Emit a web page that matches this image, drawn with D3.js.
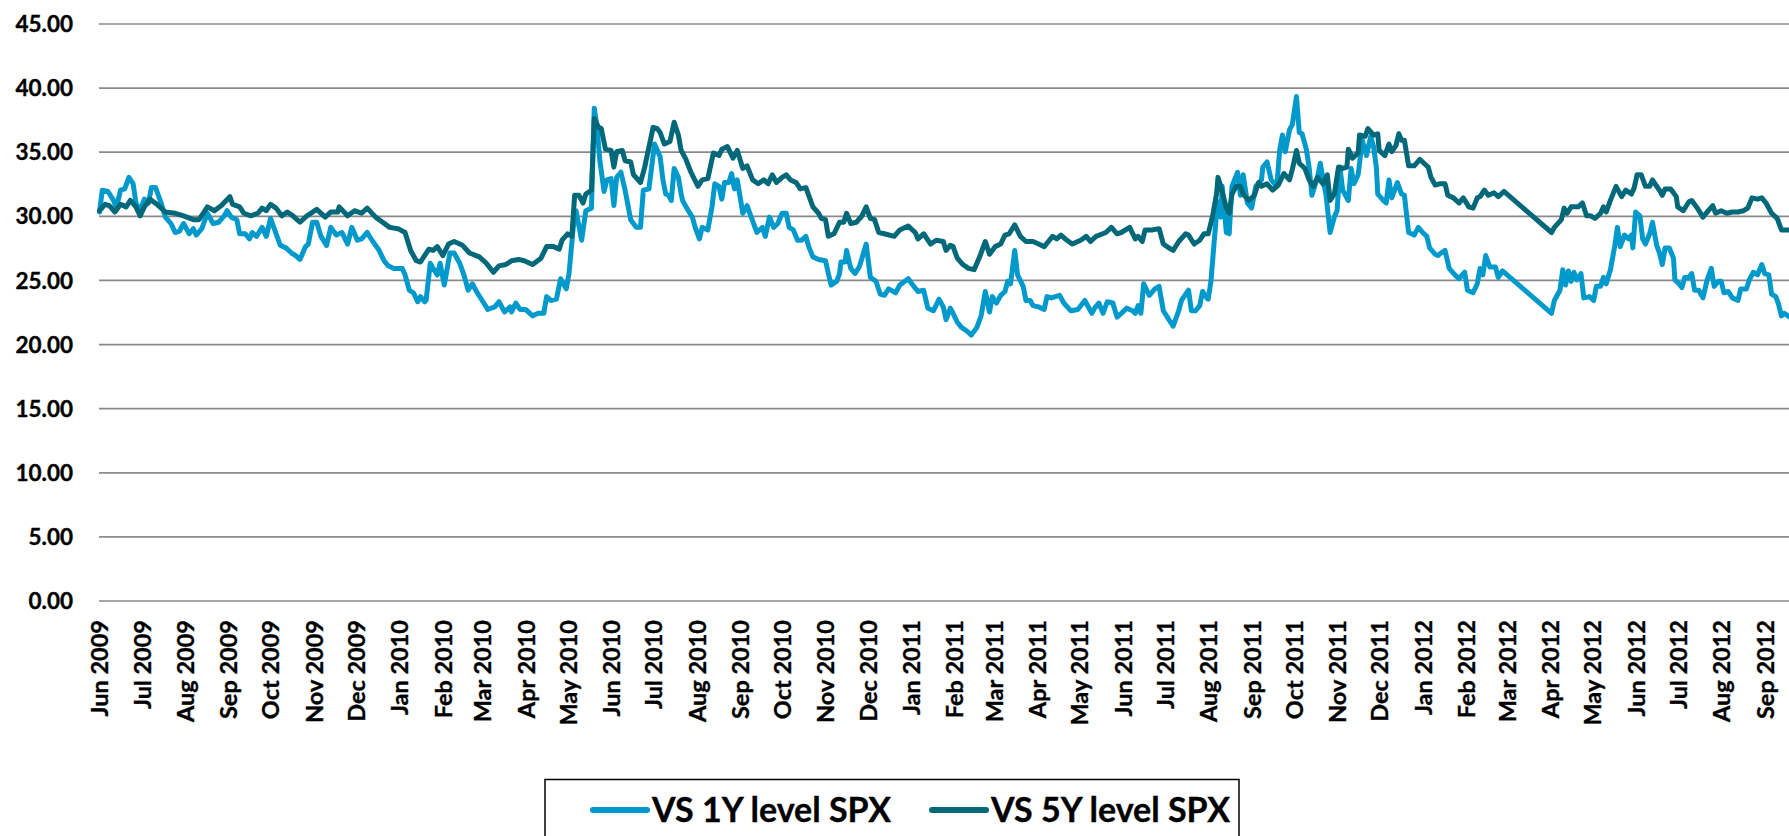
<!DOCTYPE html>
<html>
<head>
<meta charset="utf-8">
<script src="https://cdn.jsdelivr.net/npm/d3@7/dist/d3.min.js"></script>
<style>
  html, body { margin: 0; padding: 0; background: #fff; }
  #main svg { display: block; font-family: Lato, 'Open Sans', sans-serif; font-weight: 700; }
  #main svg text { stroke: #000; stroke-width: 0.35px; paint-order: stroke; }
</style>
</head>
<body>
<div id="main"></div>
<script>
// y tick values (gridlines) and month tick labels along the time axis
const yTicks = [0, 5, 10, 15, 20, 25, 30, 35, 40, 45];
const monthLabels = [
    'Jun 2009', 'Jul 2009', 'Aug 2009', 'Sep 2009', 'Oct 2009', 'Nov 2009', 'Dec 2009',
    'Jan 2010', 'Feb 2010', 'Mar 2010', 'Apr 2010', 'May 2010', 'Jun 2010', 'Jul 2010', 'Aug 2010', 'Sep 2010', 'Oct 2010', 'Nov 2010', 'Dec 2010',
    'Jan 2011', 'Feb 2011', 'Mar 2011', 'Apr 2011', 'May 2011', 'Jun 2011', 'Jul 2011', 'Aug 2011', 'Sep 2011', 'Oct 2011', 'Nov 2011', 'Dec 2011',
    'Jan 2012', 'Feb 2012', 'Mar 2012', 'Apr 2012', 'May 2012', 'Jun 2012', 'Jul 2012', 'Aug 2012', 'Sep 2012'
];
const seriesNames = ['VS 1Y level SPX', 'VS 5Y level SPX'];

// VS 1Y level SPX
const oneYearDates = [
    '2009-06-01','2009-06-03','2009-06-07','2009-06-11','2009-06-13','2009-06-16','2009-06-19','2009-06-22','2009-06-25','2009-06-27',
    '2009-06-30','2009-07-03','2009-07-06','2009-07-08','2009-07-11','2009-07-15','2009-07-18','2009-07-22','2009-07-25','2009-07-28',
    '2009-07-31','2009-08-04','2009-08-07','2009-08-09','2009-08-13','2009-08-17','2009-08-21','2009-08-25','2009-08-29','2009-08-31',
    '2009-09-03','2009-09-07','2009-09-09','2009-09-13','2009-09-16','2009-09-18','2009-09-21','2009-09-25','2009-09-28','2009-10-01',
    '2009-10-04','2009-10-08','2009-10-12','2009-10-16','2009-10-19','2009-10-22','2009-10-26','2009-10-28','2009-10-31','2009-11-03',
    '2009-11-06','2009-11-10','2009-11-13','2009-11-17','2009-11-21','2009-11-25','2009-11-28','2009-12-02','2009-12-05','2009-12-09',
    '2009-12-13','2009-12-17','2009-12-21','2009-12-24','2009-12-28','2010-01-03','2010-01-05','2010-01-08','2010-01-11','2010-01-14',
    '2010-01-16','2010-01-19','2010-01-20','2010-01-23','2010-01-25','2010-01-28','2010-01-30','2010-02-02','2010-02-06','2010-02-09',
    '2010-02-13','2010-02-16','2010-02-19','2010-02-22','2010-02-25','2010-03-01','2010-03-05','2010-03-10','2010-03-13','2010-03-17',
    '2010-03-21','2010-03-22','2010-03-25','2010-03-28','2010-04-01','2010-04-06','2010-04-10','2010-04-14','2010-04-16','2010-04-19',
    '2010-04-23','2010-04-26','2010-04-30','2010-05-02','2010-05-05','2010-05-07','2010-05-11','2010-05-14','2010-05-18','2010-05-20',
    '2010-05-22','2010-05-24','2010-05-27','2010-05-29','2010-06-01','2010-06-03','2010-06-05','2010-06-08','2010-06-11','2010-06-15',
    '2010-06-19','2010-06-22','2010-06-24','2010-06-28','2010-07-02','2010-07-06','2010-07-08','2010-07-10','2010-07-12','2010-07-14',
    '2010-07-16','2010-07-19','2010-07-21','2010-07-22','2010-07-25','2010-07-29','2010-07-31','2010-08-03','2010-08-05','2010-08-09',
    '2010-08-12','2010-08-14','2010-08-17','2010-08-19','2010-08-21','2010-08-24','2010-08-26','2010-08-28','2010-08-30','2010-09-03',
    '2010-09-06','2010-09-09','2010-09-13','2010-09-17','2010-09-19','2010-09-22','2010-09-25','2010-09-28','2010-10-01','2010-10-04',
    '2010-10-06','2010-10-09','2010-10-12','2010-10-15','2010-10-18','2010-10-20','2010-10-23','2010-10-27','2010-11-01','2010-11-03',
    '2010-11-05','2010-11-09','2010-11-11','2010-11-12','2010-11-15','2010-11-16','2010-11-19','2010-11-22','2010-11-25','2010-11-27',
    '2010-11-30','2010-12-03','2010-12-07','2010-12-10','2010-12-13','2010-12-16','2010-12-21','2010-12-24','2010-12-30','2011-01-03',
    '2011-01-06','2011-01-10','2011-01-13','2011-01-17','2011-01-21','2011-01-24','2011-01-26','2011-01-29','2011-01-31','2011-02-03',
    '2011-02-06','2011-02-10','2011-02-13','2011-02-17','2011-02-20','2011-02-23','2011-02-26','2011-02-28','2011-03-03','2011-03-06',
    '2011-03-09','2011-03-11','2011-03-13','2011-03-16','2011-03-18','2011-03-22','2011-03-24','2011-03-27','2011-03-29','2011-04-02',
    '2011-04-06','2011-04-08','2011-04-11','2011-04-14','2011-04-17','2011-04-20','2011-04-25','2011-04-30','2011-05-05','2011-05-10',
    '2011-05-12','2011-05-15','2011-05-18','2011-05-21','2011-05-25','2011-05-28','2011-05-31','2011-06-04','2011-06-08','2011-06-10',
    '2011-06-12','2011-06-14','2011-06-16','2011-06-20','2011-06-24','2011-06-27','2011-06-30','2011-07-04','2011-07-07','2011-07-11',
    '2011-07-13','2011-07-16','2011-07-18','2011-07-20','2011-07-23','2011-07-26','2011-07-28','2011-07-31','2011-08-01','2011-08-03',
    '2011-08-05','2011-08-07','2011-08-08','2011-08-10','2011-08-11','2011-08-14','2011-08-16','2011-08-18','2011-08-22','2011-08-24',
    '2011-08-26','2011-08-29','2011-09-01','2011-09-04','2011-09-08','2011-09-09','2011-09-12','2011-09-15','2011-09-19','2011-09-21',
    '2011-09-23','2011-09-25','2011-09-28','2011-09-30','2011-10-03','2011-10-05','2011-10-07','2011-10-10','2011-10-12','2011-10-14',
    '2011-10-18','2011-10-20','2011-10-22','2011-10-24','2011-10-27','2011-10-30','2011-11-01','2011-11-03','2011-11-05','2011-11-09',
    '2011-11-11','2011-11-13','2011-11-16','2011-11-19','2011-11-22','2011-11-25','2011-11-27','2011-11-29','2011-11-30','2011-12-04',
    '2011-12-06','2011-12-08','2011-12-10','2011-12-14','2011-12-17','2011-12-19','2011-12-22','2011-12-26','2011-12-29','2012-01-01',
    '2012-01-04','2012-01-06','2012-01-10','2012-01-12','2012-01-14','2012-01-17','2012-01-20','2012-01-24','2012-01-27','2012-01-31',
    '2012-02-02','2012-02-06','2012-02-09','2012-02-11','2012-02-13','2012-02-15','2012-02-18','2012-02-22','2012-02-24','2012-02-27',
    '2012-04-02','2012-04-04','2012-04-08','2012-04-10','2012-04-12','2012-04-14','2012-04-16','2012-04-18','2012-04-20','2012-04-23',
    '2012-04-25','2012-04-29','2012-05-02','2012-05-04','2012-05-07','2012-05-09','2012-05-11','2012-05-14','2012-05-17','2012-05-19',
    '2012-05-21','2012-05-24','2012-05-27','2012-05-29','2012-05-30','2012-06-01','2012-06-04','2012-06-06','2012-06-08','2012-06-11',
    '2012-06-13','2012-06-16','2012-06-18','2012-06-20','2012-06-22','2012-06-25','2012-06-28','2012-06-29','2012-07-02','2012-07-04',
    '2012-07-06','2012-07-09','2012-07-11','2012-07-13','2012-07-16','2012-07-19','2012-07-22','2012-07-25','2012-07-27','2012-07-30',
    '2012-08-01','2012-08-03','2012-08-06','2012-08-09','2012-08-13','2012-08-15','2012-08-19','2012-08-21','2012-08-24','2012-08-27',
    '2012-08-30','2012-09-01','2012-09-04','2012-09-06','2012-09-09','2012-09-11','2012-09-13','2012-09-15','2012-09-19'
];
const oneYearValues = [
    30.3, 32.0, 31.9, 31.2, 30.6, 32.0, 32.1, 33.0, 32.5, 31.0,
    30.4, 31.3, 31.0, 32.2, 32.2, 31.0, 29.9, 29.4, 28.7, 28.8,
    29.4, 28.6, 29.0, 28.5, 29.0, 30.2, 29.4, 29.5, 30.0, 30.4,
    29.9, 29.7, 28.6, 28.6, 28.2, 28.7, 28.4, 29.1, 28.4, 29.8,
    28.9, 27.7, 27.5, 27.1, 26.9, 26.6, 27.6, 27.8, 29.5, 29.5,
    28.4, 27.7, 29.1, 28.5, 28.7, 27.8, 29.1, 28.1, 28.2, 28.7,
    28.0, 27.4, 26.5, 26.1, 25.9, 25.9, 25.4, 24.2, 24.0, 23.3,
    23.7, 23.3, 23.4, 26.3, 25.9, 25.4, 26.3, 24.6, 27.1, 27.1,
    26.3, 25.4, 24.2, 24.7, 24.1, 23.4, 22.7, 22.9, 23.3, 22.5,
    22.9, 22.5, 23.2, 22.7, 22.7, 22.2, 22.4, 22.4, 23.7, 23.4,
    23.5, 25.1, 24.3, 25.5, 29.1, 30.4, 28.1, 30.4, 30.6, 38.4,
    36.9, 34.3, 31.9, 32.8, 32.9, 30.8, 33.0, 33.4, 32.0, 29.7,
    29.1, 29.1, 32.0, 32.1, 35.6, 34.6, 32.8, 31.7, 31.6, 31.2,
    33.7, 33.0, 31.7, 31.2, 30.6, 29.9, 29.1, 28.2, 29.1, 28.9,
    30.7, 32.5, 32.3, 31.3, 32.6, 32.6, 33.3, 32.1, 32.8, 30.2,
    30.8, 29.9, 28.7, 29.1, 28.4, 29.9, 29.1, 29.4, 30.2, 30.2,
    29.1, 28.9, 28.1, 28.1, 28.4, 27.6, 26.8, 26.6, 26.5, 25.5,
    24.6, 24.9, 25.5, 26.4, 26.4, 27.3, 25.9, 25.5, 26.0, 26.7,
    27.8, 25.2, 24.9, 23.9, 23.8, 24.3, 24.0, 24.6, 25.1, 24.5,
    24.1, 24.2, 22.8, 22.6, 23.5, 22.9, 21.9, 22.8, 22.4, 21.7,
    21.3, 21.0, 20.7, 21.3, 22.2, 24.1, 22.5, 23.7, 23.2, 23.8,
    24.1, 24.9, 24.7, 27.3, 25.4, 24.5, 23.4, 23.4, 23.0, 22.9,
    22.7, 23.7, 23.6, 23.7, 23.8, 23.2, 22.6, 22.7, 23.4, 22.4,
    22.8, 23.2, 22.4, 23.3, 23.2, 22.1, 22.4, 22.8, 22.6, 22.4,
    23.0, 22.4, 24.7, 23.8, 24.3, 24.5, 22.6, 21.9, 21.4, 22.6,
    23.4, 23.9, 24.2, 22.6, 22.6, 23.0, 24.1, 23.6, 23.5, 24.9,
    27.6, 30.2, 31.1, 29.9, 32.3, 28.7, 28.6, 32.3, 33.4, 31.6,
    33.2, 31.0, 30.6, 32.3, 32.8, 33.8, 34.2, 32.8, 32.3, 35.1,
    36.3, 35.0, 36.7, 37.1, 39.3, 36.5, 36.4, 35.2, 33.8, 31.6,
    33.0, 34.1, 32.8, 31.7, 28.7, 29.9, 30.4, 33.8, 32.0, 31.2,
    33.7, 32.5, 33.2, 35.9, 34.7, 36.2, 35.4, 33.8, 31.7, 31.2,
    31.0, 32.8, 31.4, 32.6, 31.7, 31.6, 28.7, 28.5, 29.1, 28.7,
    28.4, 27.5, 27.0, 26.9, 27.1, 27.3, 25.9, 25.4, 25.1, 25.6,
    24.2, 24.0, 24.7, 25.9, 25.4, 26.9, 26.0, 26.0, 25.2, 25.7,
    22.4, 23.4, 24.2, 25.8, 24.6, 25.7, 24.9, 25.6, 25.0, 25.5,
    23.6, 23.7, 23.4, 24.5, 24.5, 25.2, 24.7, 25.8, 27.6, 29.1,
    27.6, 28.5, 28.2, 28.5, 27.5, 30.3, 30.0, 28.2, 27.8, 28.6,
    29.5, 27.7, 27.1, 26.2, 27.5, 27.5, 26.7, 25.0, 24.7, 24.4,
    25.2, 25.2, 25.5, 24.2, 24.2, 23.6, 25.0, 25.9, 24.5, 24.9,
    24.9, 24.0, 24.1, 23.6, 23.4, 24.3, 24.3, 25.0, 25.6, 25.4,
    26.2, 25.5, 25.4, 23.9, 23.7, 23.1, 22.2, 22.4, 22.1
];

// VS 5Y level SPX
const fiveYearDates = [
    '2009-06-01','2009-06-05','2009-06-08','2009-06-12','2009-06-16','2009-06-20','2009-06-23','2009-06-27','2009-06-30','2009-07-03',
    '2009-07-07','2009-07-12','2009-07-18','2009-07-25','2009-07-31','2009-08-07','2009-08-11','2009-08-17','2009-08-22','2009-08-27',
    '2009-09-02','2009-09-04','2009-09-09','2009-09-12','2009-09-17','2009-09-22','2009-09-25','2009-09-28','2009-10-01','2009-10-05',
    '2009-10-09','2009-10-13','2009-10-17','2009-10-22','2009-10-27','2009-11-03','2009-11-09','2009-11-13','2009-11-18','2009-11-19',
    '2009-11-25','2009-11-30','2009-12-05','2009-12-09','2009-12-15','2009-12-20','2009-12-25','2009-12-31','2010-01-05','2010-01-09',
    '2010-01-13','2010-01-16','2010-01-22','2010-01-25','2010-01-28','2010-02-01','2010-02-05','2010-02-09','2010-02-15','2010-02-20',
    '2010-02-27','2010-03-04','2010-03-09','2010-03-13','2010-03-18','2010-03-22','2010-03-27','2010-03-31','2010-04-06','2010-04-12',
    '2010-04-16','2010-04-21','2010-04-25','2010-04-27','2010-05-01','2010-05-04','2010-05-06','2010-05-09','2010-05-12','2010-05-14',
    '2010-05-18','2010-05-20','2010-05-23','2010-05-25','2010-05-28','2010-06-01','2010-06-03','2010-06-05','2010-06-09','2010-06-11',
    '2010-06-15','2010-06-17','2010-06-22','2010-06-25','2010-07-01','2010-07-04','2010-07-06','2010-07-09','2010-07-13','2010-07-16',
    '2010-07-19','2010-07-21','2010-07-24','2010-07-28','2010-08-02','2010-08-05','2010-08-09','2010-08-13','2010-08-17','2010-08-19',
    '2010-08-23','2010-08-27','2010-08-30','2010-09-03','2010-09-06','2010-09-10','2010-09-14','2010-09-18','2010-09-21','2010-09-24',
    '2010-09-27','2010-10-01','2010-10-04','2010-10-07','2010-10-11','2010-10-14','2010-10-18','2010-10-20','2010-10-23','2010-10-27',
    '2010-10-29','2010-11-01','2010-11-03','2010-11-07','2010-11-11','2010-11-14','2010-11-16','2010-11-19','2010-11-23','2010-11-27',
    '2010-11-30','2010-12-03','2010-12-06','2010-12-09','2010-12-13','2010-12-20','2010-12-24','2010-12-30','2011-01-04','2011-01-06',
    '2011-01-10','2011-01-15','2011-01-19','2011-01-24','2011-01-26','2011-01-29','2011-01-31','2011-02-03','2011-02-07','2011-02-11',
    '2011-02-15','2011-02-19','2011-02-23','2011-02-26','2011-03-02','2011-03-06','2011-03-09','2011-03-12','2011-03-16','2011-03-20',
    '2011-03-24','2011-03-29','2011-04-02','2011-04-06','2011-04-09','2011-04-12','2011-04-15','2011-04-18','2011-04-21','2011-04-26',
    '2011-05-02','2011-05-06','2011-05-09','2011-05-13','2011-05-20','2011-05-24','2011-05-28','2011-05-31','2011-06-06','2011-06-10',
    '2011-06-12','2011-06-15','2011-06-17','2011-06-22','2011-06-27','2011-06-30','2011-07-04','2011-07-07','2011-07-11','2011-07-16',
    '2011-07-18','2011-07-22','2011-07-26','2011-07-29','2011-08-01','2011-08-04','2011-08-07','2011-08-08','2011-08-10','2011-08-14',
    '2011-08-16','2011-08-18','2011-08-21','2011-08-24','2011-08-26','2011-08-30','2011-09-03','2011-09-06','2011-09-08','2011-09-12',
    '2011-09-16','2011-09-20','2011-09-24','2011-09-28','2011-09-30','2011-10-03','2011-10-05','2011-10-09','2011-10-12','2011-10-15',
    '2011-10-18','2011-10-22','2011-10-25','2011-10-27','2011-10-30','2011-11-02','2011-11-05','2011-11-08','2011-11-09','2011-11-12',
    '2011-11-16','2011-11-17','2011-11-21','2011-11-23','2011-11-27','2011-11-30','2011-12-01','2011-12-05','2011-12-08','2011-12-10',
    '2011-12-13','2011-12-15','2011-12-17','2011-12-19','2011-12-22','2011-12-26','2011-12-30','2012-01-01','2012-01-05','2012-01-07',
    '2012-01-10','2012-01-13','2012-01-17','2012-01-19','2012-01-23','2012-01-27','2012-01-30','2012-02-03','2012-02-06','2012-02-09',
    '2012-02-11','2012-02-14','2012-02-17','2012-02-21','2012-02-24','2012-02-28','2012-04-02','2012-04-04','2012-04-09','2012-04-11',
    '2012-04-13','2012-04-16','2012-04-21','2012-04-24','2012-04-27','2012-04-30','2012-05-03','2012-05-07','2012-05-09','2012-05-11',
    '2012-05-14','2012-05-18','2012-05-22','2012-05-25','2012-05-29','2012-05-31','2012-06-02','2012-06-05','2012-06-08','2012-06-11',
    '2012-06-13','2012-06-16','2012-06-18','2012-06-20','2012-06-22','2012-06-26','2012-06-30','2012-07-01','2012-07-05','2012-07-09',
    '2012-07-11','2012-07-15','2012-07-19','2012-07-22','2012-07-26','2012-07-28','2012-08-01','2012-08-05','2012-08-09','2012-08-13',
    '2012-08-17','2012-08-20','2012-08-23','2012-08-27','2012-08-30','2012-09-02','2012-09-06','2012-09-10','2012-09-13','2012-09-19'
];
const fiveYearValues = [
    30.4, 30.9, 30.8, 30.3, 30.9, 30.7, 31.2, 30.7, 30.0, 30.7,
    31.3, 30.9, 30.3, 30.2, 30.0, 29.7, 29.7, 30.7, 30.4, 30.8,
    31.5, 30.9, 30.7, 30.2, 30.0, 30.2, 30.6, 30.4, 30.9, 30.6,
    30.0, 30.3, 30.0, 29.5, 30.0, 30.5, 29.9, 30.3, 30.3, 30.7,
    30.0, 30.4, 30.2, 30.6, 29.9, 29.5, 29.1, 29.0, 28.7, 27.3,
    26.5, 26.4, 27.4, 27.3, 27.6, 26.9, 27.8, 28.0, 27.7, 27.1,
    26.8, 26.3, 25.6, 26.1, 26.2, 26.5, 26.6, 26.5, 26.2, 26.7,
    27.6, 27.6, 27.4, 28.1, 28.6, 28.4, 31.6, 31.6, 31.0, 31.7,
    32.0, 37.6, 36.9, 36.8, 35.2, 35.1, 33.8, 35.0, 35.1, 34.3,
    34.2, 33.2, 32.6, 33.8, 36.9, 36.8, 36.5, 35.6, 35.8, 37.3,
    36.3, 35.1, 34.5, 33.4, 32.3, 32.8, 32.9, 34.9, 34.7, 35.2,
    35.4, 34.5, 35.1, 33.7, 33.9, 32.8, 32.5, 32.8, 32.5, 33.2,
    32.6, 33.0, 33.2, 32.8, 32.6, 32.1, 32.2, 31.6, 30.7, 30.2,
    29.8, 29.7, 28.4, 28.6, 29.5, 29.5, 30.2, 29.4, 29.5, 30.0,
    30.7, 29.8, 29.7, 28.7, 28.6, 28.4, 28.9, 29.2, 28.7, 28.2,
    28.6, 27.8, 28.1, 28.0, 27.3, 27.7, 27.6, 26.7, 26.2, 25.9,
    25.8, 26.8, 28.0, 27.0, 27.6, 27.8, 28.5, 28.6, 29.3, 28.4,
    28.0, 28.0, 27.8, 27.6, 28.0, 28.4, 28.2, 28.5, 28.2, 27.8,
    28.1, 28.4, 28.0, 28.4, 28.7, 29.1, 28.6, 28.7, 29.1, 28.2,
    28.4, 28.0, 28.9, 28.9, 29.0, 27.8, 27.5, 27.3, 28.0, 28.6,
    28.5, 27.8, 28.1, 28.6, 28.6, 29.9, 31.7, 33.0, 32.3, 30.6,
    30.2, 31.7, 32.3, 32.3, 31.7, 31.2, 31.6, 32.6, 32.3, 32.5,
    32.0, 32.4, 33.3, 32.8, 33.6, 35.1, 34.1, 33.7, 32.8, 32.3,
    33.0, 32.5, 33.2, 31.2, 31.7, 33.8, 33.7, 33.8, 35.2, 34.5,
    34.9, 36.3, 36.2, 36.8, 36.3, 36.4, 35.1, 34.7, 35.6, 35.0,
    35.5, 36.4, 35.9, 35.9, 33.9, 33.9, 34.4, 34.2, 33.8, 33.0,
    32.4, 32.5, 32.5, 31.6, 31.4, 31.0, 31.4, 30.7, 30.6, 31.4,
    31.5, 32.0, 31.6, 31.8, 31.5, 31.9, 28.7, 29.1, 29.7, 30.6,
    30.2, 30.7, 30.7, 31.0, 30.0, 30.0, 29.8, 30.2, 30.7, 30.3,
    31.2, 32.3, 31.5, 32.0, 31.7, 32.2, 33.2, 33.2, 32.3, 32.3,
    32.8, 32.3, 32.0, 31.6, 32.1, 32.1, 31.5, 30.7, 30.4, 31.1,
    31.2, 30.6, 29.9, 30.3, 30.8, 30.2, 30.4, 30.2, 30.3, 30.3,
    30.4, 30.6, 31.4, 31.3, 31.4, 31.0, 30.2, 29.8, 28.9, 28.9
];

const seriesColours = ['#0099CC', '#006878'];

const WIDTH = 1789;
const HEIGHT = 836;
const PLOTLEFT = 99;
const AXISY = 600.5;

const parseDay = d3.timeParse('%Y-%m-%d');
const parseMonth = d3.timeParse('%b %Y');
const monthDates = monthLabels.map(parseMonth);

const series = [
    {name: seriesNames[0], colour: seriesColours[0], points: oneYearDates.map((d, i) => ({date: parseDay(d), value: oneYearValues[i]}))},
    {name: seriesNames[1], colour: seriesColours[1], points: fiveYearDates.map((d, i) => ({date: parseDay(d), value: fiveYearValues[i]}))}
];

const scaleX = d3.scaleTime().domain([monthDates[0], monthDates[monthDates.length - 1]]).range([99.5, 1764.6]);
const scaleY = d3.scaleLinear().domain([0, 45]).range([AXISY, 23.5]);

const svg = d3.select('#main').append('svg').attr('width', WIDTH).attr('height', HEIGHT);

// y axis with gridlines across the plot
const axisY = d3.axisLeft(scaleY).tickValues(yTicks).tickFormat(d3.format('.2f')).tickSize(-(WIDTH - PLOTLEFT)).tickPadding(26);
const gY = svg.append('g').attr('transform', `translate(${PLOTLEFT}, 0)`).call(axisY);
gY.select('.domain').remove();
gY.selectAll('.tick line').attr('stroke', '#8a8a8a').attr('stroke-width', 1.7);
gY.selectAll('.tick text')
    .attr('fill', '#000')
    .attr('dy', '0.36em')
    .style('font-family', 'Lato, sans-serif')
    .style('font-weight', 700)
    .style('font-size', '22.5px');

// x axis: monthly labels, rotated
const axisX = d3.axisBottom(scaleX).tickValues(monthDates).tickFormat(d3.timeFormat('%b %Y')).tickSize(0);
const gX = svg.append('g').attr('transform', `translate(0, ${AXISY})`).call(axisX);
gX.select('.domain').remove();
gX.selectAll('.tick text')
    .attr('fill', '#000')
    .attr('transform', 'rotate(-90)')
    .attr('x', -19.5)
    .attr('y', 0)
    .attr('dy', '0.36em')
    .style('text-anchor', 'end')
    .style('font-family', 'Lato, sans-serif')
    .style('font-weight', 700)
    .style('font-size', '23.5px');

// lines
const line = d3.line().x((d) => scaleX(d.date)).y((d) => scaleY(d.value));
svg.append('g').selectAll('path').data(series).enter().append('path')
    .attr('d', (d) => line(d.points))
    .attr('fill', 'none')
    .attr('stroke', (d) => d.colour)
    .attr('stroke-width', 5)
    .attr('stroke-linejoin', 'round')
    .attr('stroke-linecap', 'round');

// legend (box runs past the bottom edge, as in the cropped original)
const legend = svg.append('g').attr('id', 'legend');
legend.append('rect')
    .attr('x', 545).attr('y', 779.5)
    .attr('width', 694).attr('height', 90)
    .attr('fill', '#fff').attr('stroke', '#000').attr('stroke-width', 1.5);
const legendItemX = [593, 932];
const legendItems = legend.selectAll('g.item').data(series).enter().append('g').attr('class', 'item')
    .attr('transform', (d, i) => `translate(${legendItemX[i]}, 0)`);
legendItems.append('line')
    .attr('x1', 0).attr('x2', 54).attr('y1', 810).attr('y2', 810)
    .attr('stroke', (d) => d.colour).attr('stroke-width', 6).attr('stroke-linecap', 'round');
legendItems.append('text')
    .attr('x', 59).attr('y', 821.5)
    .attr('fill', '#000')
    .style('font-size', '34px')
    .text((d) => d.name);
</script>
</body>
</html>
